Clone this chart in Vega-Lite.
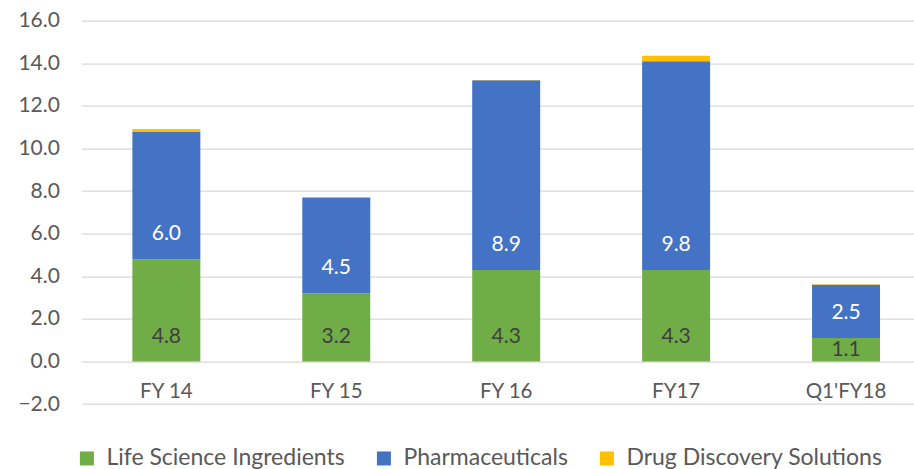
{
  "$schema": "https://vega.github.io/schema/vega-lite/v6.json",
  "autosize": "none",
  "padding": {"left": 81.4, "top": 20.7, "right": 0, "bottom": 64.9},
  "width": 832.6,
  "height": 383.4,
  "background": "white",
  "data": {"values": [
    {"year": "FY 14", "series": "Life Science Ingredients", "value": 4.8},
    {"year": "FY 14", "series": "Pharmaceuticals", "value": 6.0},
    {"year": "FY 14", "series": "Drug Discovery Solutions", "value": 0.12},
    {"year": "FY 15", "series": "Life Science Ingredients", "value": 3.2},
    {"year": "FY 15", "series": "Pharmaceuticals", "value": 4.5},
    {"year": "FY 15", "series": "Drug Discovery Solutions", "value": 0},
    {"year": "FY 16", "series": "Life Science Ingredients", "value": 4.3},
    {"year": "FY 16", "series": "Pharmaceuticals", "value": 8.9},
    {"year": "FY 16", "series": "Drug Discovery Solutions", "value": 0.02},
    {"year": "FY17", "series": "Life Science Ingredients", "value": 4.3},
    {"year": "FY17", "series": "Pharmaceuticals", "value": 9.8},
    {"year": "FY17", "series": "Drug Discovery Solutions", "value": 0.25},
    {"year": "Q1'FY18", "series": "Life Science Ingredients", "value": 1.1},
    {"year": "Q1'FY18", "series": "Pharmaceuticals", "value": 2.5},
    {"year": "Q1'FY18", "series": "Drug Discovery Solutions", "value": 0.03}
  ]},
  "transform": [
    {"calculate": "indexof(['Life Science Ingredients','Pharmaceuticals','Drug Discovery Solutions'], datum.series)", "as": "ord"},
    {"stack": "value", "groupby": ["year"], "sort": [{"field": "ord", "order": "ascending"}], "as": ["v0", "v1"]},
    {"calculate": "min(datum.v0 + 1.17, (datum.v0 + datum.v1) / 2)", "as": "ly"}
  ],
  "encoding": {
    "x": {
      "field": "year", "type": "nominal", "sort": null,
      "scale": {"paddingInner": 0.6, "paddingOuter": 0.25, "align": 0.6},
      "axis": {
        "title": null, "labelAngle": 0, "domain": false, "ticks": false,
        "offset": -42.5, "labelBaseline": "middle", "labelPadding": 30,
        "labelFont": "Lato", "labelFontSize": 20.5, "labelColor": "#595959", "grid": false
      }
    }
  },
  "layer": [
    {
      "mark": {"type": "bar"},
      "encoding": {
        "y": {
          "field": "v0", "type": "quantitative",
          "scale": {"domain": [-2, 16], "nice": false, "zero": false},
          "axis": {
            "title": null, "values": [-2, 0, 2, 4, 6, 8, 10, 12, 14, 16], "format": ".1f",
            "domain": false, "ticks": false, "labelPadding": 22,
            "labelFont": "Lato", "labelFontSize": 21, "labelColor": "#595959",
            "gridColor": "#d9d9d9", "gridWidth": 1.3
          }
        },
        "y2": {"field": "v1"},
        "color": {
          "field": "series", "type": "nominal",
          "scale": {
            "domain": ["Life Science Ingredients", "Pharmaceuticals", "Drug Discovery Solutions"],
            "range": ["#70AD47", "#4472C4", "#FFC000"]
          },
          "legend": {
            "title": null, "orient": "none", "direction": "horizontal",
            "legendX": -6, "legendY": 426, "padding": 0,
            "symbolType": "square", "symbolSize": 196, "symbolStrokeWidth": 0,
            "labelFont": "Lato", "labelFontSize": 23, "labelColor": "#595959",
            "labelOffset": 8, "columnPadding": 27, "labelLimit": 500
          }
        }
      }
    },
    {
      "transform": [{"filter": "datum.series != 'Drug Discovery Solutions'"}],
      "mark": {"type": "text", "font": "Lato", "fontSize": 21, "baseline": "middle", "align": "center"},
      "encoding": {
        "y": {"field": "ly", "type": "quantitative"},
        "text": {"field": "value", "type": "quantitative", "format": ".1f"},
        "color": {
          "condition": {"test": "datum.series == 'Pharmaceuticals'", "value": "white"},
          "value": "#404040"
        }
      }
    }
  ],
  "config": {"view": {"stroke": null}}
}
